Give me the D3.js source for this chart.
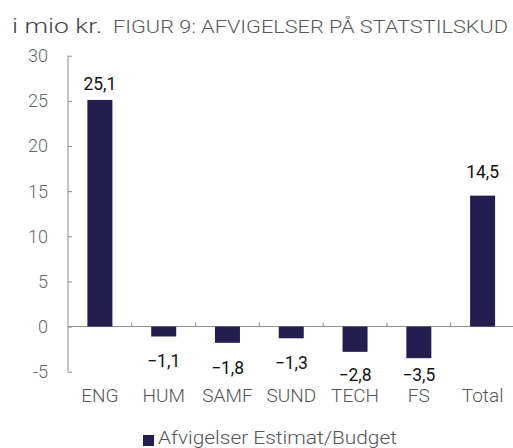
<!DOCTYPE html>
<meta charset="utf-8">
<style>
body { margin: 0; background: #fff; }
svg { font-family: Roboto, "Open Sans", sans-serif; }
.axis path, .axis line { stroke: #8c8c8c; stroke-width: 1; }
.axis text { fill: #666; font-size: 18px; font-weight: 300; }
</style>
<svg width="513" height="448"></svg>
<script src="https://d3js.org/d3.v7.min.js"></script>
<script>

var categories = ["ENG", "HUM", "SAMF", "SUND", "TECH", "FS", "Total"];
var values = [25.1, -1.1, -1.8, -1.3, -2.8, -3.5, 14.5];
var yTicks = [-5, 0, 5, 10, 15, 20, 25, 30];
var seriesName = "Afvigelser Estimat/Budget";
var titleText = "FIGUR 9: AFVIGELSER PÅ STATSTILSKUD";
var unitText = "i mio kr.";

var barColor = "#241d50";

var svg = d3.select("svg"),
    plotLeft = 68, plotRight = 514.5,
    plotTop = 55.7, plotBottom = 371.7;

var x = d3.scaleBand()
    .domain(categories)
    .range([plotLeft, plotRight])
    .paddingInner(0)
    .paddingOuter(0);

var y = d3.scaleLinear()
    .domain([-5, 30])
    .range([plotBottom, plotTop]);

var barW = 25;

// y axis: line + inward ticks, labels well to the left
var yAxis = svg.append("g").attr("class", "axis")
    .attr("transform", "translate(" + plotLeft + ",0)")
    .call(d3.axisRight(y).tickValues(yTicks).tickSize(4).tickSizeOuter(0).tickFormat(""));
yAxis.select(".domain").attr("d", "M0," + y(30) + "V" + y(-5));

svg.append("g").attr("class", "axis")
  .selectAll("text")
  .data(yTicks)
  .enter().append("text")
    .attr("x", 48)
    .attr("y", function(d) { return y(d); })
    .attr("dy", "0.36em")
    .attr("text-anchor", "end")
    .text(function(d) { return d; });

// x axis at zero, ticks at band edges pointing up
var edges = categories.map(function(c) { return x(c); }).concat([plotRight]);
var xg = svg.append("g").attr("class", "axis");
xg.append("line")
    .attr("x1", plotLeft).attr("x2", plotRight)
    .attr("y1", y(0)).attr("y2", y(0));
xg.selectAll("line.tick")
  .data(edges.slice(1))
  .enter().append("line")
    .attr("class", "tick")
    .attr("x1", function(d) { return d; })
    .attr("x2", function(d) { return d; })
    .attr("y1", y(0)).attr("y2", y(0) - 4);

// bars
svg.append("g")
  .selectAll("rect")
  .data(values)
  .enter().append("rect")
    .attr("x", function(d, i) { return x(categories[i]) + x.bandwidth() / 2 - barW / 2; })
    .attr("width", barW)
    .attr("y", function(d) { return y(Math.max(0, d)); })
    .attr("height", function(d) { return Math.abs(y(d) - y(0)); })
    .attr("fill", barColor);

// value labels (Excel pushed some of them around)
var nudge = { "Total": -8 };
svg.append("g")
  .selectAll("text")
  .data(values)
  .enter().append("text")
    .attr("x", function(d, i) { return x(categories[i]) + x.bandwidth() / 2; })
    .attr("y", function(d, i) {
      if (d >= 0) return y(d) - 10 + (nudge[categories[i]] || 0);
      return Math.min(y(d) + 31, 381);
    })
    .attr("text-anchor", "middle")
    .attr("fill", "#111")
    .style("font-size", "17.5px")
    .text(function(d) { return d3.format(".1f")(d).replace(".", ",").replace("-", "\u2212"); });

// category labels
svg.append("g").attr("class", "axis")
  .selectAll("text")
  .data(categories)
  .enter().append("text")
    .attr("x", function(d) { return x(d) + x.bandwidth() / 2; })
    .attr("y", 402)
    .attr("text-anchor", "middle")
    .style("fill", "#555")
    .style("font-size", "19px")
    .text(function(d) { return d; });

// header texts
svg.append("text")
    .attr("x", 12).attr("y", 33)
    .attr("fill", "#444")
    .attr("textLength", 90)
    .attr("lengthAdjust", "spacingAndGlyphs")
    .style("font-size", "20.5px")
    .style("font-weight", 300)
    .text(unitText);

svg.append("text")
    .attr("x", 113).attr("y", 33)
    .attr("fill", "#5a5a5a")
    .attr("textLength", 395)
    .attr("lengthAdjust", "spacingAndGlyphs")
    .style("font-size", "18.5px")
    .style("font-weight", 300)
    .text(titleText);

// legend
svg.append("rect")
    .attr("x", 143).attr("y", 435)
    .attr("width", 11).attr("height", 11)
    .attr("fill", barColor);
svg.append("text")
    .attr("x", 158).attr("y", 444)
    .attr("fill", "#555")
    .attr("textLength", 239)
    .attr("lengthAdjust", "spacingAndGlyphs")
    .style("font-size", "18px")
    .style("font-weight", 300)
    .text(seriesName);

</script>
